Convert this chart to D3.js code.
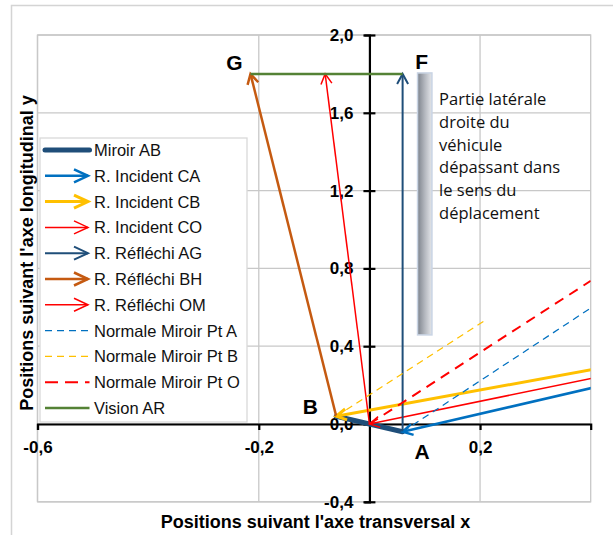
<!DOCTYPE html>
<html><head><meta charset="utf-8">
<script src="https://cdn.jsdelivr.net/npm/d3@7/dist/d3.min.js"></script>
<style>html,body{margin:0;padding:0;background:#fff}svg{display:block}</style>
</head><body>
<svg id="chart" width="613" height="535"></svg>
<script>
// ---------- DATA ----------
const xTicks = [-0.6, -0.2, 0.2];
const yTicks = [-0.4, 0, 0.4, 0.8, 1.2, 1.6, 2.0];
const xDomain = [-0.6, 0.4];
const yDomain = [-0.4, 2.0];

const seriesNames = ["Miroir AB","R. Incident CA","R. Incident CB","R. Incident CO","R. Réfléchi AG","R. Réfléchi BH","R. Réfléchi OM","Normale Miroir Pt A","Normale Miroir Pt B","Normale Miroir Pt O","Vision AR"];
const mirrorAB   = [[-0.06, 0.04], [0.06, -0.04]];
const incidentCA = [[1.066, 0.623], [0.06, -0.04]];
const incidentCB = [[1.066, 0.623], [-0.06, 0.04]];
const incidentCO = [[1.066, 0.623], [0, 0]];
const reflechiAG = [[0.06, -0.04], [0.06, 1.8]];
const reflechiBH = [[-0.06, 0.04], [-0.215, 1.8]];
const reflechiOM = [[0, 0], [-0.08, 1.8]];
const normaleA   = [[0.06, -0.04], [0.4, 0.596]];
const normaleB   = [[-0.06, 0.04], [0.213, 0.54]];
const normaleO   = [[0, 0], [0.4, 0.736]];
const visionAR   = [[-0.215, 1.8], [0.06, 1.8]];

const pointLabels = ["G","F","B","A"];
const pointLabelPos = [[-0.215, 1.8], [0.06, 1.8], [-0.06, 0.04], [0.06, -0.04]];
const noteLines = ["Partie latérale","droite du","véhicule","dépassant dans","le sens du","déplacement"];
const barX = [0.087, 0.113];
const barY = [0.458, 1.805];
const xTitle = "Positions suivant l'axe transversal x";
const yTitle = "Positions suivant l'axe longitudinal y";

// ---------- STYLES ----------
const seriesData = [mirrorAB, incidentCA, incidentCB, incidentCO, reflechiAG, reflechiBH, reflechiOM, normaleA, normaleB, normaleO, visionAR];
const styles = [
  {c:"#1f4e79", w:5,   dash:null,  arrow:false, cap:"round"},
  {c:"#0070c0", w:2.5, dash:null,  arrow:true},
  {c:"#ffc000", w:3,   dash:null,  arrow:true},
  {c:"#ff0000", w:1.5, dash:null,  arrow:true},
  {c:"#1f4e79", w:2,   dash:null,  arrow:true},
  {c:"#c55a11", w:2.5, dash:null,  arrow:true},
  {c:"#ff0000", w:1.5, dash:null,  arrow:true},
  {c:"#0070c0", w:1.25,dash:"7,5", arrow:false},
  {c:"#ffc000", w:1.25,dash:"7,5", arrow:false},
  {c:"#ff0000", w:2,   dash:"10,7",arrow:false},
  {c:"#548235", w:2.5, dash:null,  arrow:false}
];

const svg = d3.select("#chart");
const plot = {l:37.5, r:590.7, t:35, b:501.8};
const x = d3.scaleLinear().domain(xDomain).range([plot.l, plot.r]);
const y = d3.scaleLinear().domain(yDomain).range([plot.b, plot.t]);
const loc = d3.formatLocale({decimal:",", thousands:" ", grouping:[3], currency:["",""], minus:"-"});
const fmt = loc.format(".1f");

const defs = svg.append("defs");
// arrow markers
function marker(id, color, len, half, sw){
  const m = defs.append("marker").attr("id", id).attr("markerUnits","userSpaceOnUse")
    .attr("markerWidth", 1).attr("markerHeight", 1).attr("refX",0).attr("refY",0)
    .attr("orient","auto").style("overflow","visible");
  m.append("path").attr("d",`M${-len},${-half} L0,0 L${-len},${half}`)
    .attr("fill","none").attr("stroke",color).attr("stroke-width",sw)
    .attr("stroke-linejoin","miter").attr("stroke-linecap","butt");
}
styles.forEach((s,i)=>{
  if(s.arrow){
    marker("a"+i, s.c, 10, 5.5, s.w);
    marker("l"+i, s.c, 14, 6.5, s.w);
  }
});
defs.append("clipPath").attr("id","clip").append("rect")
  .attr("x",plot.l).attr("y",plot.t).attr("width",plot.r-plot.l).attr("height",plot.b-plot.t);
const grad = defs.append("linearGradient").attr("id","bar").attr("x1","0").attr("x2","1").attr("y1","0").attr("y2","0");
grad.append("stop").attr("offset","0").attr("stop-color","#7d838c");
grad.append("stop").attr("offset","0.5").attr("stop-color","#b3b7be");
grad.append("stop").attr("offset","1").attr("stop-color","#e4e6ea");

// outer frame
svg.append("rect").attr("x",11.5).attr("y",5.5).attr("width",640).attr("height",560)
  .attr("fill","none").attr("stroke","#d4d4d4").attr("stroke-width",1.5);

// gridlines
const grid = svg.append("g");
grid.selectAll("line.h").data(yTicks).join("line")
  .attr("x1",plot.l).attr("x2",plot.r).attr("y1",d=>y(d)).attr("y2",d=>y(d))
  .attr("stroke","#c8c8c8").attr("stroke-width",1.3);
grid.selectAll("line.v").data(xTicks).join("line")
  .attr("y1",plot.t).attr("y2",plot.b).attr("x1",d=>x(d)).attr("x2",d=>x(d))
  .attr("stroke","#c8c8c8").attr("stroke-width",1.3);
grid.append("rect").attr("x",plot.l).attr("y",plot.t).attr("width",plot.r-plot.l).attr("height",plot.b-plot.t)
  .attr("fill","none").attr("stroke","#c8c8c8").attr("stroke-width",1.3);

// gray bar + note
svg.append("rect").attr("x",x(barX[0])).attr("y",y(barY[1]))
  .attr("width",x(barX[1])-x(barX[0])).attr("height",y(barY[0])-y(barY[1]))
  .attr("fill","url(#bar)").attr("stroke","#c9d4e4").attr("stroke-width",1.5);
const note = svg.append("text").attr("font-family","'Open Sans', sans-serif").attr("font-size",16.5).attr("fill","#111");
noteLines.forEach((t,i)=>{
  note.append("tspan").attr("x",x(0.126)).attr("y",105 + i*22.8).text(t);
});

// axes
const yAxis = svg.append("g").attr("transform",`translate(${x(0)},0)`)
  .call(d3.axisLeft(y).tickValues(yTicks).tickFormat(fmt).tickSizeOuter(0).tickSize(5).tickPadding(11));
yAxis.select(".domain").attr("stroke","#000").attr("stroke-width",2.2);
yAxis.selectAll(".tick line").attr("x1",-6).attr("x2",6).attr("stroke","#000").attr("stroke-width",2.2);
yAxis.selectAll(".tick text").attr("font-family","'Liberation Sans', Arial, sans-serif").attr("font-weight","bold").attr("font-size",17).attr("fill","#000");

const xAxis = svg.append("g").attr("transform",`translate(0,${y(0)})`)
  .call(d3.axisBottom(x).tickValues(xTicks).tickFormat(fmt).tickSizeOuter(0).tickSize(6).tickPadding(11));
xAxis.select(".domain").attr("stroke","#000").attr("stroke-width",2.2);
xAxis.selectAll(".tick line").attr("stroke","#000").attr("stroke-width",2.2);
xAxis.selectAll(".tick text").attr("font-family","'Liberation Sans', Arial, sans-serif").attr("font-weight","bold").attr("font-size",17).attr("fill","#000");

// series
const line = d3.line().x(d=>x(d[0])).y(d=>y(d[1]));
const g = svg.append("g").attr("clip-path","url(#clip)");
seriesData.forEach((pts,i)=>{
  const s = styles[i];
  const p = g.append("path").attr("d",line(pts)).attr("fill","none")
    .attr("stroke",s.c).attr("stroke-width",s.w).attr("stroke-linecap",s.cap||"butt");
  if(s.dash) p.attr("stroke-dasharray",s.dash);
  if(s.arrow) p.attr("marker-end",`url(#a${i})`);
});

// point labels
const offs = [[-16,-11],[19,-12.5],[-26,-10],[19.5,20]];
pointLabels.forEach((t,i)=>{
  svg.append("text").attr("x",x(pointLabelPos[i][0])+offs[i][0]).attr("y",y(pointLabelPos[i][1])+offs[i][1]+7.5)
    .attr("text-anchor","middle").attr("font-family","'Liberation Sans', Arial, sans-serif")
    .attr("font-weight","bold").attr("font-size",21).attr("fill","#000").text(t);
});

// legend
const lg = svg.append("g");
lg.append("rect").attr("x",40).attr("y",138).attr("width",207).attr("height",284)
  .attr("fill","#fff").attr("stroke","#d9d9d9").attr("stroke-width",1.3);
seriesNames.forEach((n,i)=>{
  const s = styles[i];
  const cy = 150 + i*25.8;
  const l = lg.append("line").attr("x1",45).attr("x2",s.arrow?88:89.5).attr("y1",cy).attr("y2",cy)
    .attr("stroke",s.c).attr("stroke-width",s.w).attr("stroke-linecap",s.cap||"butt");
  if(s.dash) l.attr("stroke-dasharray", i===9 ? "13,7" : "7,5");
  if(s.arrow) l.attr("marker-end",`url(#l${i})`);
  lg.append("text").attr("x",94).attr("y",cy+6).attr("font-family","'Liberation Sans', Arial, sans-serif")
    .attr("font-size",16.5).attr("fill","#111").text(n);
});

// axis titles
svg.append("text").attr("x",315.5).attr("y",528).attr("text-anchor","middle")
  .attr("font-family","'Liberation Sans', Arial, sans-serif").attr("font-weight","bold").attr("font-size",18).attr("fill","#000").text(xTitle);
svg.append("text").attr("transform","translate(33,253) rotate(-90)").attr("text-anchor","middle")
  .attr("font-family","'Liberation Sans', Arial, sans-serif").attr("font-weight","bold").attr("font-size",18).attr("fill","#000").text(yTitle);
</script>
</body></html>
